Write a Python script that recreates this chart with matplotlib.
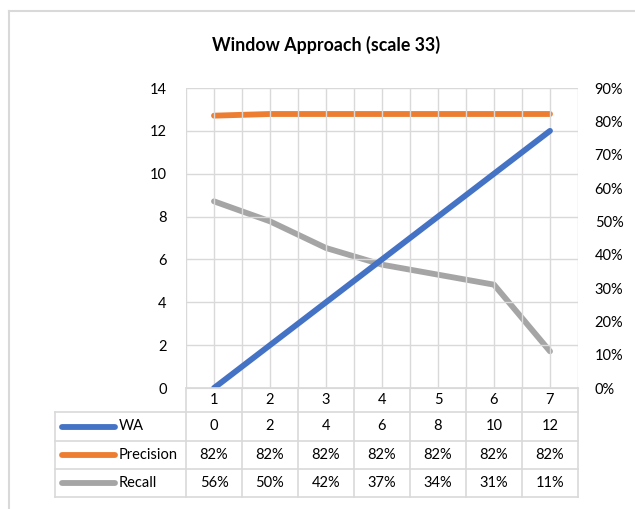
import matplotlib
matplotlib.use('Agg')
import matplotlib.pyplot as plt
from matplotlib.lines import Line2D

plt.rcParams['font.family'] = ['Lato', 'DejaVu Sans']

# data
categories = [1, 2, 3, 4, 5, 6, 7]
wa = [0, 2, 4, 6, 8, 10, 12]
precision = [0.817, 0.822, 0.822, 0.822, 0.822, 0.822, 0.822]
recall = [0.56, 0.50, 0.42, 0.37, 0.34, 0.31, 0.11]
series_names = ['WA', 'Precision', 'Recall']
colors = ['#4472C4', '#ED7D31', '#A5A5A5']

W, H = 635, 509
fig = plt.figure(figsize=(W / 100, H / 100), dpi=100)
grid_c = '#D9D9D9'


def fx(x):
    return x / W


def fy(y):
    return 1 - y / H


# plot area in pixels
left, right, top, bottom = 186, 578, 88, 388
ax = fig.add_axes([fx(left), fy(bottom), fx(right - left), (bottom - top) / H])
ax2 = ax.twinx()

ax.set_xlim(0.5, 7.5)
ax.set_ylim(0, 14)
ax.set_yticks(range(0, 15, 2))
ax.set_xticks(categories)
ax.set_xticks([c + 0.5 for c in [0] + categories], minor=True)
ax.grid(True, which='both', color=grid_c, linewidth=1)
ax.set_axisbelow(True)
ax.tick_params(axis='x', which='both', length=0, labelbottom=False)
ax.tick_params(axis='y', length=0, labelsize=10.5, pad=14)
for s in ax.spines.values():
    s.set_visible(False)
ax.spines['bottom'].set_visible(True)
ax.spines['bottom'].set_color(grid_c)

ax2.set_ylim(0, 0.9)
ax2.set_yticks([i / 10 for i in range(10)])
ax2.set_yticklabels([f'{i * 10}%' for i in range(10)])
ax2.tick_params(axis='y', length=0, labelsize=10.5, pad=12)
for s in ax2.spines.values():
    s.set_visible(False)

lw = 4.2
ax.plot(categories, wa, color=colors[0], lw=lw, solid_capstyle='round', zorder=3)
ax2.plot(categories, precision, color=colors[1], lw=lw, solid_capstyle='round')
ax2.plot(categories, recall, color=colors[2], lw=lw, solid_capstyle='round')
ax.set_zorder(ax2.get_zorder() + 1)
ax.patch.set_visible(False)

fig.text(fx(326), fy(45), 'Window Approach (scale 33)', ha='center', va='center',
         fontsize=12.8, fontweight='bold')

# data table under the plot
col_w = (right - left) / len(categories)
rows_y = [388, 412, 441, 469, 497]
tab_left = 55


def hline(x0, x1, y):
    fig.add_artist(Line2D([fx(x0), fx(x1)], [fy(y), fy(y)], color=grid_c, lw=1.2))


def vline(x, y0, y1):
    fig.add_artist(Line2D([fx(x), fx(x)], [fy(y0), fy(y1)], color=grid_c, lw=1.2))


hline(left, right, rows_y[0])
for y in rows_y[1:]:
    hline(tab_left, right, y)
for i in range(len(categories) + 1):
    vline(left + i * col_w, rows_y[0], rows_y[-1])
vline(tab_left, rows_y[1], rows_y[-1])

for i, c in enumerate(categories):
    fig.text(fx(left + (i + 0.5) * col_w), fy((rows_y[0] + rows_y[1]) / 2), str(c),
             ha='center', va='center', fontsize=10.5)

cells = [[str(v) for v in wa],
         [f'{v:.0%}' for v in precision],
         [f'{v:.0%}' for v in recall]]
for r, name in enumerate(series_names):
    yc = (rows_y[r + 1] + rows_y[r + 2]) / 2
    fig.add_artist(Line2D([fx(62), fx(115)], [fy(yc), fy(yc)], color=colors[r],
                          lw=lw, solid_capstyle='round'))
    fig.text(fx(119), fy(yc), name, ha='left', va='center', fontsize=10.5)
    for i, txt in enumerate(cells[r]):
        fig.text(fx(left + (i + 0.5) * col_w), fy(yc), txt,
                 ha='center', va='center', fontsize=10.5)

# chart frame
fig.add_artist(Line2D([fx(9), fx(9)], [fy(11), 0], color=grid_c, lw=1.5))
fig.add_artist(Line2D([fx(9), 1], [fy(11), fy(11)], color=grid_c, lw=1.5))

fig.savefig('out.png', dpi=100)
